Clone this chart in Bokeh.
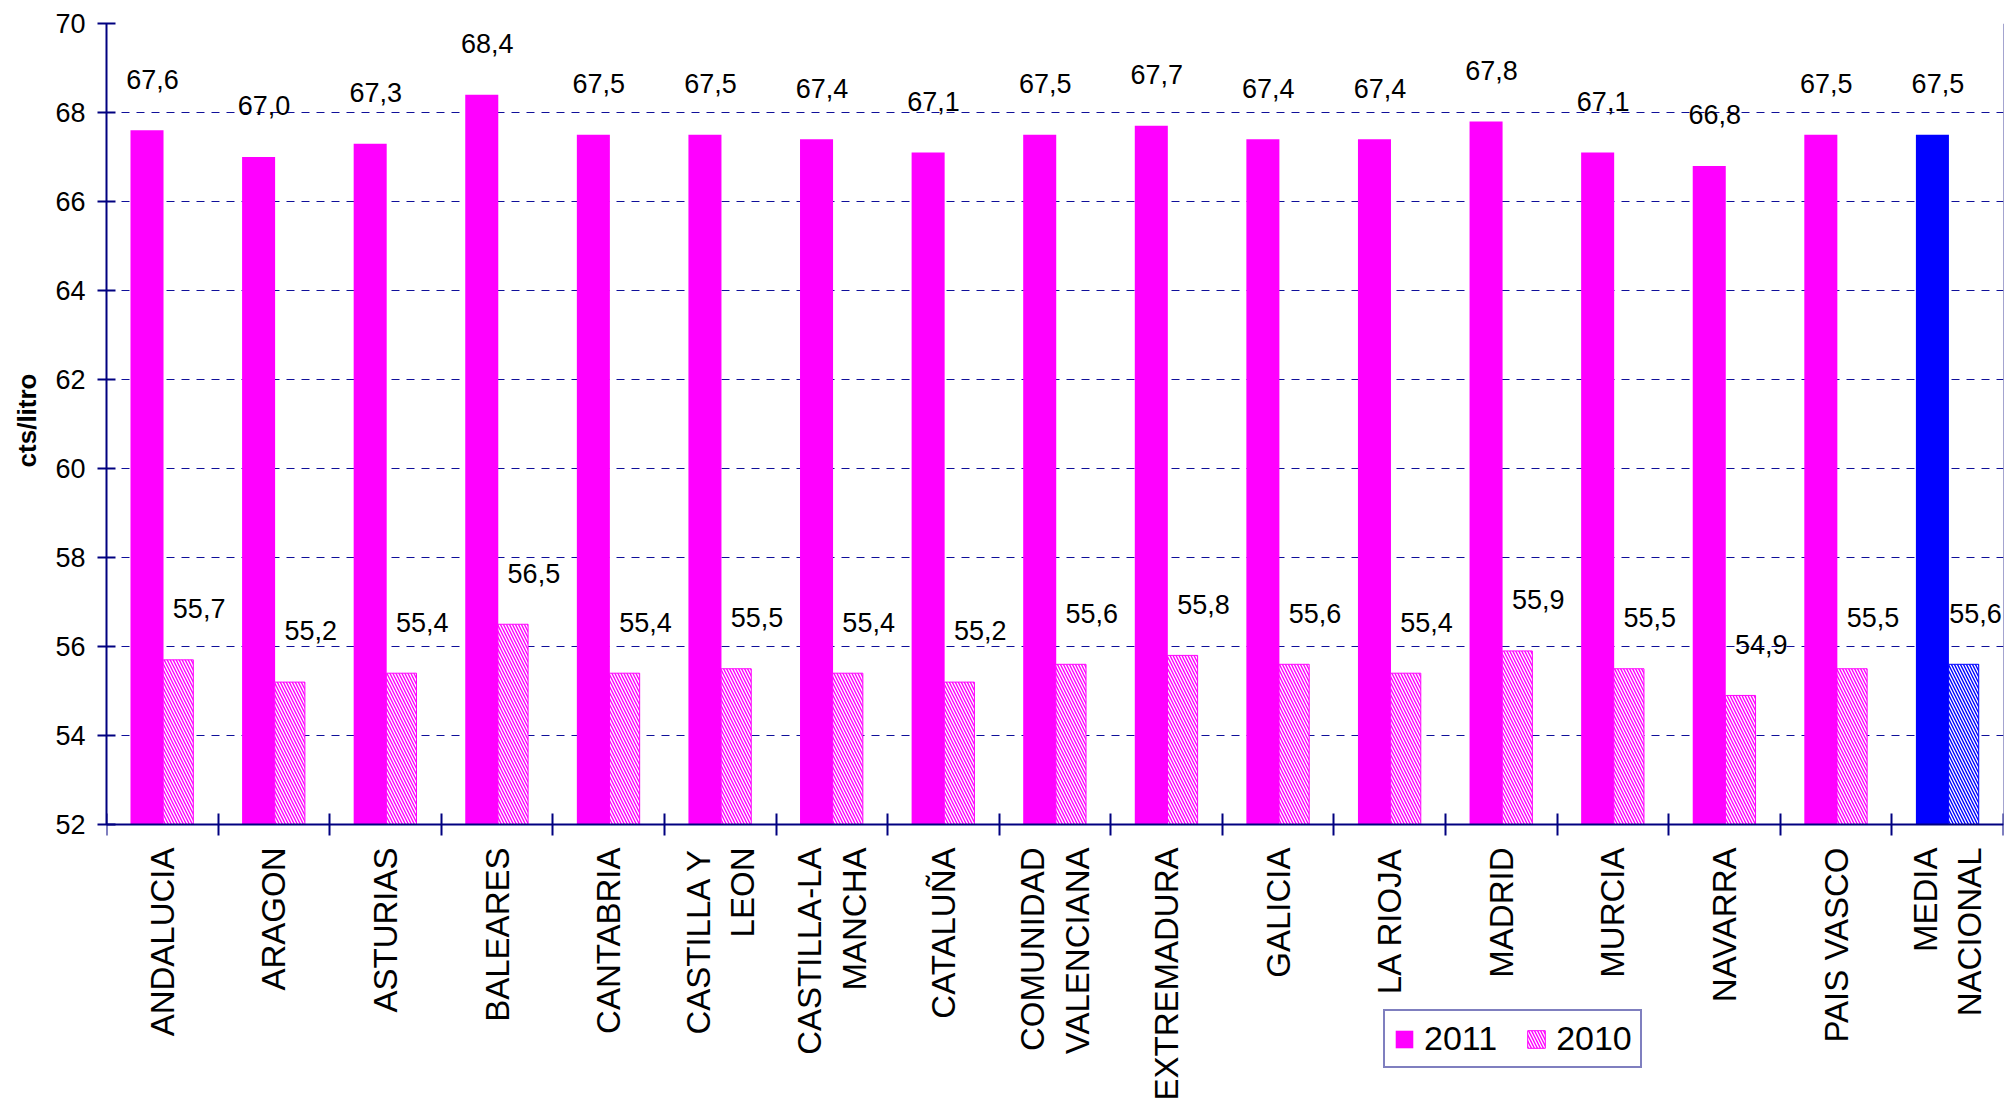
import math
from bokeh.plotting import figure
from bokeh.models import (ColumnDataSource, Range1d, FixedTicker, Legend,
                          LegendItem, LinearAxis, Title)
from bokeh.core.properties import value
from bokeh.embed import file_html
from bokeh.resources import INLINE

categories = ["ANDALUCIA", "ARAGON", "ASTURIAS", "BALEARES", "CANTABRIA",
              "CASTILLA Y\nLEON", "CASTILLA-LA\nMANCHA", "CATALUÑA",
              "COMUNIDAD\nVALENCIANA", "EXTREMADURA", "GALICIA", "LA RIOJA",
              "MADRID", "MURCIA", "NAVARRA", "PAIS VASCO", "MEDIA\nNACIONAL"]
values_2011 = [67.6, 67.0, 67.3, 68.4, 67.5, 67.5, 67.4, 67.1, 67.5, 67.7,
               67.4, 67.4, 67.8, 67.1, 66.8, 67.5, 67.5]
values_2010 = [55.7, 55.2, 55.4, 56.5, 55.4, 55.5, 55.4, 55.2, 55.6, 55.8,
               55.6, 55.4, 55.9, 55.5, 54.9, 55.5, 55.6]
y_ticks = [52, 54, 56, 58, 60, 62, 64, 66, 68, 70]
series_names = ["2011", "2010"]
y_title = "cts/litro"

FONT = "Liberation Sans"
NAVY = "#000080"

# layout (pixels)
W, H = 2004, 1103
LEFT, TOP, RIGHT = 106, 23, 1
AXIS_PX = 801            # pixel height of the 52..70 value band
y_lo, y_hi = y_ticks[0], y_ticks[-1]
frame_h = H - TOP
y_bottom = y_hi - (y_hi - y_lo) * frame_h / AXIS_PX

n = len(categories)
centers = [i + 0.5 for i in range(n)]
colors = ["#0000FF" if c.startswith("MEDIA") else "#FF00FF" for c in categories]

def fmt(v):
    return f"{v:.1f}".replace(".", ",")

src = ColumnDataSource(dict(
    x11=[c - 0.137 for c in centers],
    x10=[c + 0.143 for c in centers],
    xl11=[c - 0.088 for c in centers],
    xl10=[min(c + 0.33, n - 0.25) for c in centers],
    v11=values_2011,
    v10=values_2010,
    yl11=[v + 1.15 for v in values_2011],
    yl10=[v + 1.15 for v in values_2010],
    t11=[fmt(v) for v in values_2011],
    t10=[fmt(v) for v in values_2010],
    color=colors,
))

p = figure(width=W, height=H, output_backend="svg", toolbar_location=None,
           x_range=Range1d(0, n), y_range=Range1d(y_bottom, y_hi),
           min_border_left=LEFT, min_border_top=TOP, min_border_right=RIGHT,
           min_border_bottom=0)

p.background_fill_color = "white"
p.outline_line_color = None

r11 = p.vbar(x="x11", top="v11", bottom=y_lo, width=0.296, source=src,
             fill_color="color", line_color="color", line_width=0)
r10 = p.vbar(x="x10", top="v10", bottom=y_lo, width=0.27, source=src,
             fill_color="white", line_color="color", line_width=1,
             hatch_pattern="\\", hatch_color="color", hatch_scale=6,
             hatch_weight=1.4)

p.text(x="xl11", y="yl11", text="t11", source=src, text_font=value(FONT),
       text_font_size="27px", text_align="center", text_baseline="middle",
       text_color="black")
p.text(x="xl10", y="yl10", text="t10", source=src, text_font=value(FONT),
       text_font_size="27px", text_align="center", text_baseline="middle",
       text_color="black")

# grid
p.xgrid.visible = False
p.ygrid.ticker = FixedTicker(ticks=y_ticks)
p.ygrid.grid_line_color = "#10109a"
p.ygrid.grid_line_dash = "8 7"
p.ygrid.grid_line_width = 1.2

# y axis
ya = p.yaxis[0]
ya.ticker = FixedTicker(ticks=y_ticks)
ya.bounds = (y_lo, y_hi)
ya.axis_line_color = NAVY
ya.axis_line_width = 2
ya.major_tick_line_color = NAVY
ya.major_tick_line_width = 2
ya.major_tick_in = 9
ya.major_tick_out = 9
ya.minor_tick_line_color = None
ya.major_label_text_font = FONT
ya.major_label_text_font_size = "27px"
ya.major_label_text_color = "black"
ya.major_label_standoff = 12

# y title, placed alongside the 52..70 band
title = Title(text=y_title, align="right", offset=350, vertical_align="top",
              text_font=FONT, text_font_size="26px", text_font_style="bold",
              text_color="black", standoff=18)
p.add_layout(title, "left")

# right border line of the value band
ra = LinearAxis(ticker=FixedTicker(ticks=[]), fixed_location=n,
                bounds=(y_lo, y_hi), axis_line_color="#4a4aa0",
                axis_line_width=1, major_tick_line_color=None,
                minor_tick_line_color=None, major_label_text_font_size="0px")
p.add_layout(ra, "right")

# x axis drawn at the 52 level
xa = p.xaxis[0]
xa.fixed_location = y_lo
xa.ticker = FixedTicker(ticks=centers, minor_ticks=list(range(n + 1)))
xa.major_label_overrides = {c: lab for c, lab in zip(centers, categories)}
xa.major_label_orientation = math.pi / 2
xa.major_label_text_font = FONT
xa.major_label_text_font_size = "33px"
xa.major_label_text_color = "black"
xa.major_label_standoff = 12
xa.major_tick_line_color = None
xa.major_tick_in = 0
xa.major_tick_out = 11
xa.minor_tick_line_color = NAVY
xa.minor_tick_line_width = 2
xa.minor_tick_in = 11
xa.minor_tick_out = 11
xa.axis_line_color = NAVY
xa.axis_line_width = 2

legend = Legend(items=[LegendItem(label=series_names[0], renderers=[r11], index=0),
                       LegendItem(label=series_names[1], renderers=[r10], index=0)],
                orientation="horizontal", location=(1383 - LEFT, H - 1068))
legend.label_text_font = FONT
legend.label_text_font_size = "34px"
legend.label_text_color = "black"
legend.glyph_width = 22
legend.glyph_height = 22
legend.label_standoff = 9
legend.spacing = 28
legend.padding = 8
legend.margin = 0
legend.border_line_color = NAVY
legend.border_line_width = 2
legend.background_fill_color = "white"
p.add_layout(legend, "center")

open("out.html", "w").write(file_html(p, INLINE))
